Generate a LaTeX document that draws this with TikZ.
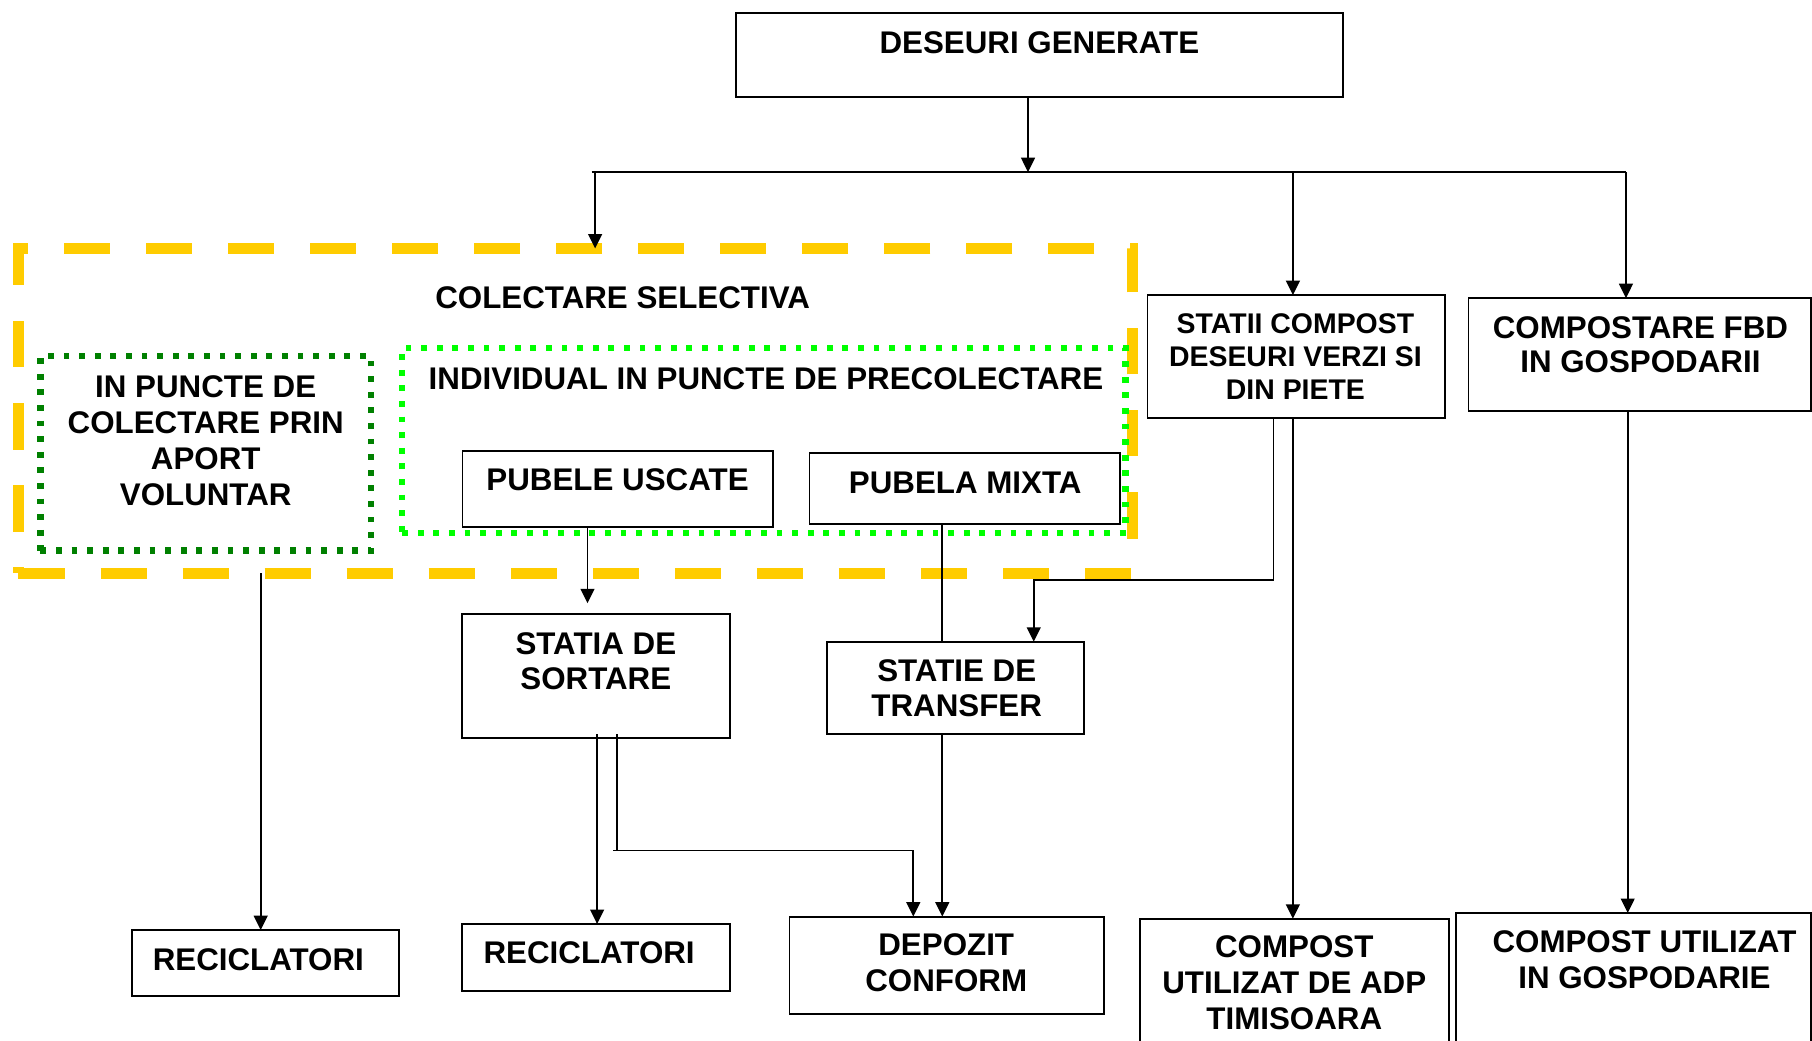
\documentclass[tikz,border=0pt]{standalone}
\usepackage{fontspec}
\newfontfamily\diagfam{Liberation Sans}
\usetikzlibrary{arrows.meta}
\definecolor{ygold}{HTML}{FFCC00}
\definecolor{dkgreen}{HTML}{008000}
\definecolor{ltgreen}{HTML}{00FF00}
\newcommand\dfont{\diagfam\bfseries\fontsize{27.1}{31}\selectfont}
\newcommand\dfontsm{\diagfam\bfseries\fontsize{24.6}{28.5}\selectfont}
\tikzset{
  box/.style={draw=black, line width=1.6pt, inner sep=0pt, outer sep=0pt, anchor=north west},
  ybox/.style={draw=ygold, line width=9.5pt, dash pattern=on 40pt off 31pt, inner sep=0pt, outer sep=0pt, anchor=north west},
  dgbox/.style={draw=dkgreen, line width=5.5pt, dash pattern=on 5pt off 8.5pt, inner sep=0pt, outer sep=0pt, anchor=north west},
  lgbox/.style={draw=ltgreen, line width=5.5pt, dash pattern=on 5pt off 8.5pt, inner sep=0pt, outer sep=0pt, anchor=north west},
  txt/.style={font=\dfont, inner sep=0pt, anchor=base},
  txtsm/.style={font=\dfontsm, inner sep=0pt, anchor=base},
  ln/.style={line width=1.5pt, draw=black},
  arr/.style={line width=1.5pt, draw=black, -{Triangle[length=12.5pt,width=12pt]}}
}
\begin{document}
\begin{tikzpicture}[x=1pt, y=-1pt]
\useasboundingbox (0,0) rectangle (1568,900);
\clip (0,0) rectangle (1568,900);
\fill[white] (0,0) rectangle (1568,900);

% containers
\node[ybox, minimum width=964pt, minimum height=281pt] (ysel) at (16,215) {};
\node[dgbox, minimum width=286pt, minimum height=168.5pt] (apv) at (35,308) {};
\node[lgbox, minimum width=626pt, minimum height=160pt] (ind) at (348,301) {};

% boxes
\node[box, minimum width=525.4pt, minimum height=72.7pt] (dg) at (636.7,11) {};
\node[box, minimum width=257.5pt, minimum height=106.1pt] (st) at (993,255.3) {};
\node[box, minimum width=296.3pt, minimum height=97.4pt] (cf) at (1270.7,258) {};
\node[box, minimum width=268.4pt, minimum height=65.5pt] (pu) at (400.2,390.3) {};
\node[box, minimum width=268.9pt, minimum height=61.4pt] (pm) at (700.5,392.3) {};
\node[box, minimum width=231.7pt, minimum height=106.7pt] (ss) at (400,531.6) {};
\node[box, minimum width=222.5pt, minimum height=79.7pt] (tr) at (715.7,555.3) {};
\node[box, minimum width=231.3pt, minimum height=57.2pt] (ra) at (114,804.8) {};
\node[box, minimum width=231.7pt, minimum height=57.7pt] (rb) at (400,799.6) {};
\node[box, minimum width=272.4pt, minimum height=84.3pt] (dep) at (683.2,793.2) {};
\node[box, minimum width=267.3pt, minimum height=130pt] (adp) at (986.4,795) {};
\node[box, minimum width=306.8pt, minimum height=130pt] (gos) at (1260.2,790) {};

% texts
\node[txt] (dgT) at (899.4,46) {DESEURI GENERATE};
\node[txt, anchor=base west] (yselT) at (376.5,267.2) {COLECTARE SELECTIVA};
\node[txt] (apvT1) at (178,344) {IN PUNCTE DE};
\node[txt] (apvT2) at (178,375) {COLECTARE PRIN};
\node[txt] (apvT3) at (178,406) {APORT};
\node[txt] (apvT4) at (178,437.5) {VOLUNTAR};
\node[txt, anchor=base west] (indT) at (370.8,336.8) {INDIVIDUAL IN PUNCTE DE PRECOLECTARE};
\node[txt] (puT) at (534.4,424.7) {PUBELE USCATE};
\node[txt] (pmT) at (835.2,426.7) {PUBELA MIXTA};
\node[txt] (ssT1) at (515.6,566) {STATIA DE};
\node[txt] (ssT2) at (515.6,597) {SORTARE};
\node[txt] (trT1) at (827.9,589.3) {STATIE DE};
\node[txt] (trT2) at (827.9,620.3) {TRANSFER};
\node[txt, anchor=base west] (raT) at (132,839.4) {RECICLATORI};
\node[txt] (rbT) at (509.8,834) {RECICLATORI};
\node[txt] (depT1) at (818.8,826.5) {DEPOZIT};
\node[txt] (depT2) at (818.8,858.3) {CONFORM};
\node[txtsm] (stT1) at (1121,288.5) {STATII COMPOST};
\node[txtsm] (stT2) at (1121,317) {DESEURI VERZI SI};
\node[txtsm] (stT3) at (1121,345.5) {DIN PIETE};
\node[txt] (cfT1) at (1419.5,292.5) {COMPOSTARE FBD};
\node[txt] (cfT2) at (1419.5,322.5) {IN GOSPODARII};
\node[txt] (adpT1) at (1120,828.5) {COMPOST};
\node[txt] (adpT2) at (1120,859.5) {UTILIZAT DE ADP};
\node[txt] (adpT3) at (1120,890.5) {TIMISOARA};
\node[txt] (gosT1) at (1423,824) {COMPOST UTILIZAT};
\node[txt] (gosT2) at (1423,855) {IN GOSPODARIE};

% connector points
\coordinate (bL) at (512,149);
\coordinate (bR) at (1407,149);
\coordinate (j0) at (889.6,149);
\coordinate (j1) at (515,149);
\coordinate (j2) at (1118.8,149);
\coordinate (k1) at (1102,502);
\coordinate (k2) at (894.5,502);
\coordinate (k4) at (508.4,522);
\coordinate (k5) at (815.4,700);
\coordinate (k6) at (516.7,700);
\coordinate (k7) at (534,736);
\coordinate (k8) at (790.3,736);
\coordinate (k9) at (225.6,496);

% connectors
\draw[ln] (bL) -- (bR);
\draw[arr] (j0 |- dg.south) -- (j0);
\draw[arr] (j1) -- (j1 |- ysel.north);
\draw[arr] (j2) -- (j2 |- st.north);
\draw[arr] (bR) -- (bR |- cf.north);
\draw[arr] (k1 |- st.south) -- (k1) -- (k2) -- (k2 |- tr.north);
\draw[arr] (j2 |- st.south) -- (j2 |- adp.north);
\draw[arr] ([xshift=1.5pt]bR |- cf.south) -- ([xshift=1.5pt]bR |- gos.north);
\draw[arr] (k4 |- pu.south) -- (k4);
\draw[ln] (k5 |- pm.south) -- (k5 |- tr.north);
\draw[arr] (k5 |- tr.south) -- (k5 |- dep.north);
\draw[arr] ([yshift=3pt]k6 |- ss.south) -- (k6 |- rb.north);
\draw[ln] ([xshift=-3.5pt]k7) -- (k7);
\draw[arr] ([yshift=3pt]k7 |- ss.south) -- (k7) -- (k8) -- (k8 |- dep.north);
\draw[arr] (k9) -- (k9 |- ra.north);
\end{tikzpicture}
\end{document}
